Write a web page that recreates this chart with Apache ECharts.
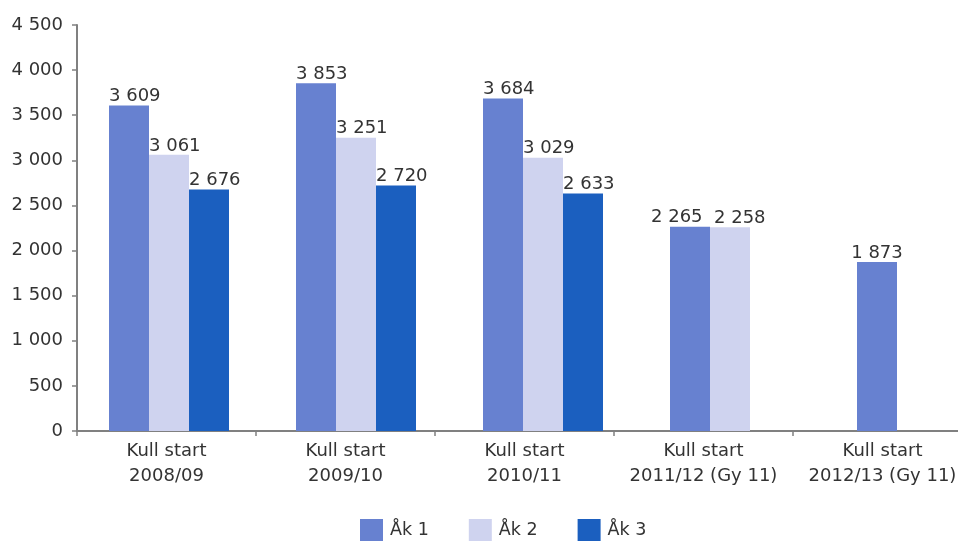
<!DOCTYPE html>
<html>
<head>
<meta charset="utf-8">
<script src="https://cdn.jsdelivr.net/npm/echarts@6/dist/echarts.min.js"></script>
<style>
html,body{margin:0;padding:0;background:#fff;}
#chart{width:958px;height:541px;}
</style>
</head>
<body>
<div id="chart"></div>
<script>
// ---- data ----
const categories = ["Kull start\n2008/09", "Kull start\n2009/10", "Kull start\n2010/11", "Kull start\n2011/12 (Gy 11)", "Kull start\n2012/13 (Gy 11)"];
const seriesNames = ["Åk 1", "Åk 2", "Åk 3"];
const ak1 = [3609, 3853, 3684, 2265, 1873];
const ak2 = [3061, 3251, 3029, 2258, null];
const ak3 = [2676, 2720, 2633, null, null];
const yTicks = [0, 500, 1000, 1500, 2000, 2500, 3000, 3500, 4000, 4500];

// ---- styling ----
const colors = ["#6781d0", "#cfd3ef", "#1b5fbf"];
const FONT = "DejaVu Sans";
const TXT = "#333333";
const AXIS = "#808080";
const fmt = v => String(v).replace(/\B(?=(\d{3})+(?!\d))/g, " ");

// label placement tweaks (series index, category index) -> horizontal shift
function labelFor(s, c) {
  const base = {
    show: true, formatter: p => fmt(p.value), fontFamily: FONT, fontSize: 18, color: TXT,
    align: "left", verticalAlign: "bottom", position: [0, 0]
  };
  if (s === 0 && c === 4) { return Object.assign(base, { position: "top", align: "center", distance: 0 }); }
  if (s === 0 && c === 3) { base.position = [-19, 0]; }
  if (s === 1 && c === 3) { base.position = [4, 0]; }
  return base;
}

const allData = [ak1, ak2, ak3];
const series = allData.map((arr, s) => ({
  name: seriesNames[s],
  type: "bar",
  xAxisIndex: 1,
  yAxisIndex: 1,
  barWidth: 40,
  barGap: "0%",
  itemStyle: { color: colors[s] },
  emphasis: { disabled: true },
  data: arr.map((v, c) => v == null ? null : { value: v, label: labelFor(s, c) })
}));

const chart = echarts.init(document.getElementById("chart"), null, { renderer: "canvas" });
chart.setOption({
  animation: false,
  backgroundColor: "#ffffff",
  color: colors,
  grid: [
    { left: 77, top: 25, bottom: 110, width: 895, containLabel: false, outerBoundsMode: "none" },
    { left: 75.5, top: 25, bottom: 110, width: 935, containLabel: false, outerBoundsMode: "none" }
  ],
  legend: {
    data: seriesNames.map((n, i) => ({ name: n, itemStyle: { color: colors[i] } })),
    icon: "rect",
    left: 360, top: 519, padding: 0,
    itemWidth: 23, itemHeight: 23, itemGap: 40,
    textStyle: { fontFamily: FONT, fontSize: 17.5, color: TXT, padding: [6, 0, 0, 2] },
    selectedMode: false
  },
  xAxis: [
    {
      type: "category", gridIndex: 0, data: categories,
      axisLine: { show: true, lineStyle: { color: AXIS, width: 2 } },
      axisTick: { show: true, length: 5, lineStyle: { color: AXIS, width: 1.5 } },
      axisLabel: { interval: 0, margin: 8, fontFamily: FONT, fontSize: 18, lineHeight: 25, color: TXT, hideOverlap: false },
      splitLine: { show: false }
    },
    { type: "category", gridIndex: 1, data: categories, show: false }
  ],
  yAxis: [
    {
      type: "value", gridIndex: 0, min: yTicks[0], max: yTicks[yTicks.length - 1], interval: 500,
      axisLine: { show: true, lineStyle: { color: AXIS, width: 2 } },
      axisTick: { show: true, length: 5, lineStyle: { color: AXIS, width: 1.5 } },
      axisLabel: { margin: 14, fontFamily: FONT, fontSize: 18, color: TXT, formatter: v => fmt(v) },
      splitLine: { show: false }
    },
    { type: "value", gridIndex: 1, min: yTicks[0], max: yTicks[yTicks.length - 1], interval: 500, show: false }
  ],
  series: series
});
</script>
</body>
</html>
